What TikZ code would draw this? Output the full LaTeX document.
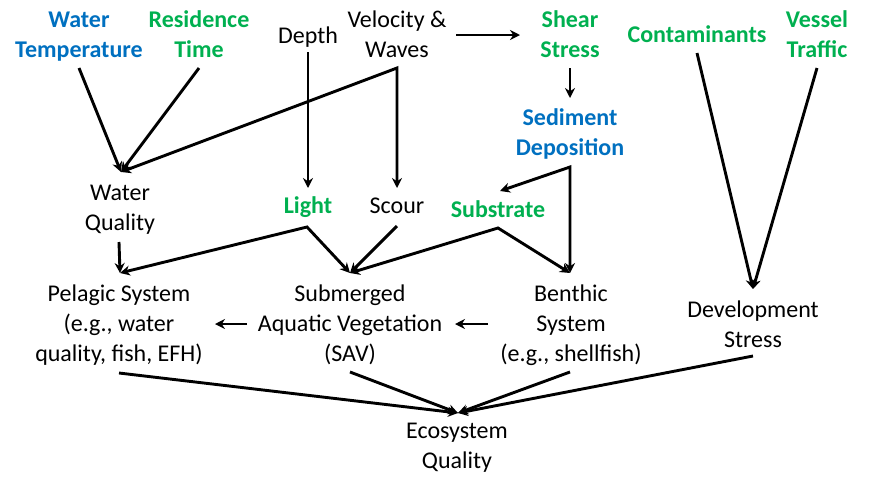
\documentclass[tikz,border=0pt]{standalone}
\usepackage{fontspec}
\setmainfont{Carlito}
\usetikzlibrary{arrows.meta}
\definecolor{ablue}{HTML}{0070C0}
\definecolor{agreen}{HTML}{00B050}
\begin{document}
\begin{tikzpicture}[x=1pt,y=-1pt,
  lbl/.style={anchor=north,inner sep=0pt,align=center,font=\fontsize{24}{30}\selectfont},
  bluelbl/.style={lbl,text=ablue,font=\fontsize{24}{30}\selectfont\bfseries},
  greenlbl/.style={lbl,text=agreen,font=\fontsize{24}{30}\selectfont\bfseries},
  link/.style={line width=2.9pt,-{Stealth[length=10pt,width=10pt]}},
  twolink/.style={line width=2.9pt,{Stealth[length=10pt,width=10pt]}-{Stealth[length=10pt,width=10pt]}}]
\useasboundingbox (0,0) rectangle (871,483);

% drivers
\node[bluelbl]  (wt)     at (79,6)   {\strut Water\\\strut Temperature};
\node[greenlbl] (rt)     at (199,6)  {\strut Residence\\\strut Time};
\node[lbl]      (depth)  at (308,22) {\strut Depth};
\node[lbl]      (vel)    at (397,6)  {\strut Velocity \&\\\strut Waves};
\node[greenlbl] (shear)  at (570,6)  {\strut Shear\\\strut Stress};
\node[greenlbl] (cont)   at (697,21) {\strut Contaminants};
\node[greenlbl] (vessel) at (817,6)  {\strut Vessel\\\strut Traffic};
\node[bluelbl]  (sed)    at (570,104) {\strut Sediment\\\strut Deposition};

% intermediate factors
\node[lbl]      (wq)     at (120,179) {\strut Water\\\strut Quality};
\node[greenlbl] (light)  at (308,192) {\strut Light};
\node[lbl]      (scour)  at (397,192) {\strut Scour};
\node[greenlbl] (subst)  at (498,196) {\strut Substrate};

% systems
\node[lbl] (pel) at (119,280) {\strut Pelagic System\\\strut (e.g., water\\\strut quality, fish, EFH)};
\node[lbl] (sav) at (350,280) {\strut Submerged\\\strut Aquatic Vegetation\\\strut (SAV)};
\node[lbl] (ben) at (571,280) {\strut Benthic\\\strut System\\\strut (e.g., shellfish)};
\node[lbl] (dev) at (753,296) {\strut Development\\\strut Stress};
\node[lbl] (eco) at (457,417) {\strut Ecosystem\\\strut Quality};

% connector end points
\coordinate (wt-o)    at (79,68);
\coordinate (rt-o)    at (199,68);
\coordinate (vel-o)   at (397,68);
\coordinate (vel-r)   at (456,35);
\coordinate (depth-o) at (308,52);
\coordinate (shear-l) at (520,35);
\coordinate (shear-o) at (570,68);
\coordinate (sed-i)   at (570,98);
\coordinate (sed-o)   at (570,167);
\coordinate (cont-o)  at (697,53);
\coordinate (vessel-o) at (817,68);
\coordinate (wq-i)    at (121,172);
\coordinate (wq-o)    at (119,242);
\coordinate (light-i) at (308,188);
\coordinate (light-o) at (307,227);
\coordinate (scour-i) at (397,188);
\coordinate (scour-o) at (397,226);
\coordinate (subst-i) at (500,191);
\coordinate (subst-o) at (498,228);
\coordinate (pel-i)   at (120,273);
\coordinate (pel-r)   at (215,324);
\coordinate (pel-o)   at (119,373);
\coordinate (sav-i)   at (350,273);
\coordinate (sav-l)   at (247,324);
\coordinate (sav-r)   at (455,324);
\coordinate (sav-o)   at (350,372);
\coordinate (ben-i)   at (570,273);
\coordinate (ben-l)   at (488,324);
\coordinate (ben-o)   at (570,372);
\coordinate (dev-i)   at (753,289);
\coordinate (dev-o)   at (753,356);
\coordinate (eco-i)   at (458,413);

% links
\draw[link] (wt-o) -- (wq-i);
\draw[link] (rt-o) -- (wq-i);
\draw[twolink] (wq-i) -- (vel-o) -- (scour-i);
\draw[link] (depth-o) -- (light-i);
\draw[link] (vel-r) -- (shear-l);
\draw[link] (shear-o) -- (sed-i);
\draw[twolink] (subst-i) -- (sed-o) -- (ben-i);
\draw[link] (cont-o) -- (dev-i);
\draw[link] (vessel-o) -- (dev-i);
\draw[link] (wq-o) -- (pel-i);
\draw[twolink] (pel-i) -- (light-o) -- (sav-i);
\draw[link] (scour-o) -- (sav-i);
\draw[twolink] (sav-i) -- (subst-o) -- (ben-i);
\draw[link] (sav-l) -- (pel-r);
\draw[link] (ben-l) -- (sav-r);
\draw[link] (pel-o) -- (eco-i);
\draw[link] (sav-o) -- (eco-i);
\draw[link] (ben-o) -- (eco-i);
\draw[link] (dev-o) -- (eco-i);
\end{tikzpicture}
\end{document}
